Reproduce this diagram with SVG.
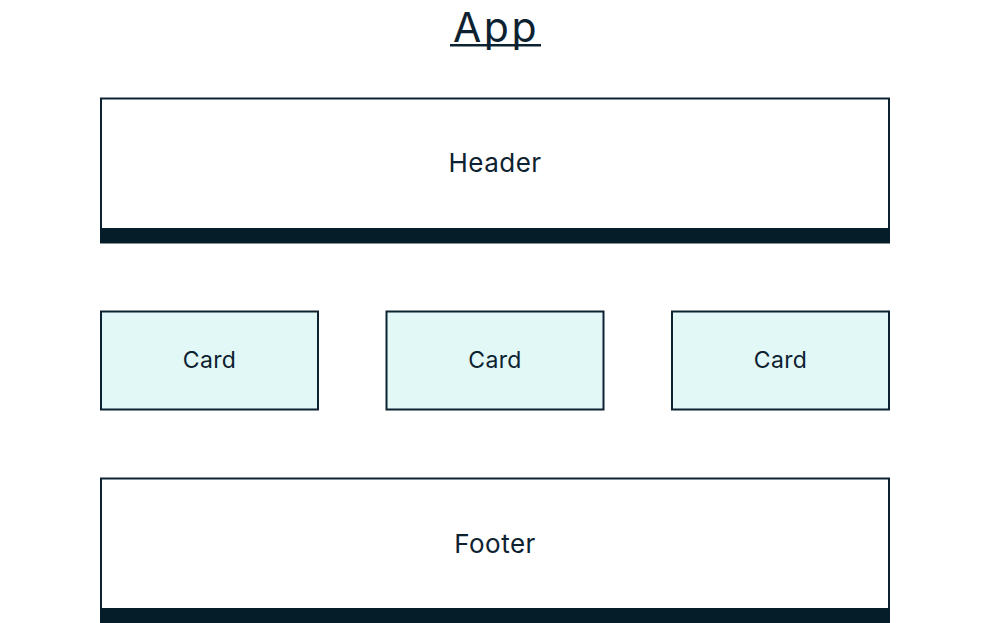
<svg xmlns="http://www.w3.org/2000/svg" width="990" height="623" viewBox="0 0 990 623">
<style>
.box{fill:#ffffff;stroke:#0d2230;stroke-width:2}
.card{fill:#e1f8f6;stroke:#0d2230;stroke-width:2}
.bar{fill:#051d29}
.t{font-family:Inter,"Noto Sans",sans-serif;fill:#0d2230;text-anchor:middle}
</style>
<rect width="990" height="623" fill="#ffffff"/>
<g id="title">
<text class="t" x="496" y="42" font-size="41" letter-spacing="2.5">App</text>
<rect x="450" y="44" width="91" height="2.5" fill="#0d2230"/>
</g>
<g id="header">
<rect class="box" x="101" y="98.5" width="788" height="144"/>
<rect class="bar" x="100" y="228" width="790" height="15"/>
<text class="t" x="495" y="172" font-size="26" letter-spacing="0.5">Header</text>
</g>
<g id="card1">
<rect class="card" x="101" y="311.5" width="217" height="98"/>
<text class="t" x="209.5" y="368" font-size="23" letter-spacing="0.3">Card</text>
</g>
<g id="card2">
<rect class="card" x="386.5" y="311.5" width="217" height="98"/>
<text class="t" x="495" y="368" font-size="23" letter-spacing="0.3">Card</text>
</g>
<g id="card3">
<rect class="card" x="672" y="311.5" width="217" height="98"/>
<text class="t" x="780.5" y="368" font-size="23" letter-spacing="0.3">Card</text>
</g>
<g id="footer">
<rect class="box" x="101" y="478.5" width="788" height="150"/>
<rect class="bar" x="100" y="608" width="790" height="15"/>
<text class="t" x="495" y="553" font-size="26" letter-spacing="0.5">Footer</text>
</g>
<g id="connectors"></g>
</svg>
